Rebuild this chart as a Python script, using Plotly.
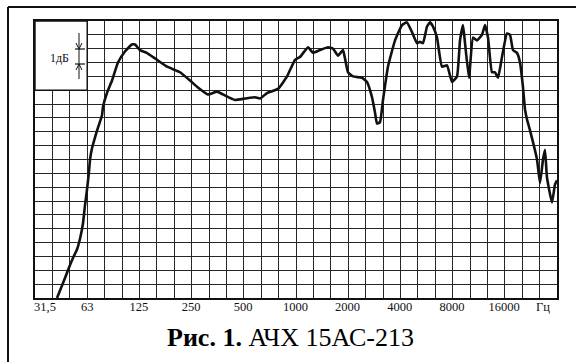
import math
import plotly.graph_objects as go

# Frequency response data (Hz, dB relative to bottom of grid)
freq_hz = [42.2, 45.1, 48.8, 52.2, 55.0, 57.3, 59.6, 61.2, 62.8, 64.5, 65.4, 67.1, 69.9, 72.7,
           76.7, 77.7, 81.9, 87.6, 94.8, 104, 114, 119, 127, 139, 155, 182, 216, 247, 274, 313,
           353, 382, 448, 512, 585, 625, 686, 794, 895, 995, 1063, 1182, 1263, 1386, 1542, 1648,
           1761, 1881, 1932, 2010, 2149, 2421, 2587, 2765, 2877, 2955, 3076, 3200, 3418, 3755,
           4120, 4401, 4703, 5027, 5229, 5443, 5742, 5972, 6218, 6555, 7006, 7488, 8001, 8549,
           8899, 9261, 9510, 10026, 10571, 11148, 11913, 12402, 12906, 13608, 14156, 14736,
           15539, 16607, 17284, 17983, 18966, 19735, 20541, 21092, 21656, 22541, 24734, 25736,
           26788, 27506, 28240, 30180, 31418, 32256]
level_db = [0.0, 0.9, 2.0, 2.9, 3.5, 4.3, 5.4, 6.7, 7.8, 9.1, 10.0, 10.8, 11.6, 12.3,
            13.2, 13.8, 14.8, 15.7, 17.0, 17.8, 18.3, 18.3, 17.9, 17.7, 17.3, 16.7, 16.3, 15.7, 15.2, 14.7,
            14.9, 14.7, 14.3, 14.4, 14.5, 14.4, 14.8, 15.1, 16.0, 17.2, 17.4, 18.1, 17.7, 17.9, 18.1, 18.0,
            17.5, 17.9, 17.3, 16.3, 16.0, 15.9, 15.6, 14.5, 13.4, 12.6, 12.7, 14.3, 16.7, 18.6,
            19.7, 19.9, 19.2, 18.4, 18.5, 18.4, 19.6, 19.9, 19.6, 18.8, 16.7, 16.8, 15.6, 16.0,
            18.6, 19.7, 18.4, 15.9, 18.8, 18.6, 19.0, 19.7, 18.8, 16.3, 16.3, 15.9,
            17.4, 19.1, 19.0, 17.9, 17.7, 17.0, 15.2, 13.6, 12.9, 12.1, 10.0, 8.3,
            10.0, 10.7, 8.7, 6.9, 8.2, 8.5]

first_tick_label = "31,5"
tick_freqs = [63, 125, 250, 500, 1000, 2000, 4000, 8000, 16000]
tick_labels = ["63", "125", "250", "500", "1000", "2000", "4000", "8000", "16000"]
unit_label = "Гц"
scale_label = "1дБ"
title_text = "<b>Рис. 1.</b> АЧХ 15АС-213"

f_min = 31.5
n_octaves = 10
f_max = f_min * 2 ** n_octaves
grid_freqs = [f_min * 2 ** (k / 3) for k in range(1, 3 * n_octaves)]

fig = go.Figure()
fig.add_trace(go.Scatter(x=freq_hz, y=level_db, mode="lines",
                         line=dict(color="#111111", width=2.6, shape="spline", smoothing=0.4),
                         hoverinfo="skip", showlegend=False))

serif = "Liberation Serif, Times New Roman, serif"
grid_col = "#262626"

fig.update_layout(
    width=576, height=362,
    margin=dict(l=35, r=19, t=21, b=64),
    paper_bgcolor="white", plot_bgcolor="white",
    showlegend=False,
    xaxis=dict(type="log", range=[math.log10(f_min), math.log10(f_max)],
               tickmode="array", tickvals=tick_freqs, ticktext=tick_labels,
               ticks="", showgrid=False, zeroline=False, ticklabelstandoff=-4,
               showline=True, mirror=True, linecolor="#111111", linewidth=2,
               tickfont=dict(family=serif, size=12.5, color="#111111"),
               minor=dict(tickmode="array", tickvals=grid_freqs, showgrid=True,
                          gridcolor=grid_col, gridwidth=1.4, ticks="")),
    yaxis=dict(range=[0, 20], dtick=1, tick0=0, showticklabels=False, ticks="",
               showgrid=True, gridcolor=grid_col, gridwidth=1.4, zeroline=False,
               showline=True, mirror=True, linecolor="#111111", linewidth=2),
)

# plot-area geometry (pixels) for paper conversions
L, R, T, B = 35, 557, 21, 298
def px(x):
    return (x - L) / (R - L)
def py(y):
    return (B - y) / (B - T)

shapes = []
# white box with scale marker in top-left
shapes.append(dict(type="rect", xref="paper", yref="paper", x0=0, x1=0.1, y0=0.75, y1=1,
                   fillcolor="white", line=dict(color="#111111", width=1.4), layer="above"))
# vertical marker line
shapes.append(dict(type="line", xref="paper", yref="paper", x0=px(79), x1=px(79), y0=py(33), y1=py(79),
                   line=dict(color="#111111", width=1), layer="above"))
for yy in (49, 64):
    shapes.append(dict(type="line", xref="paper", yref="paper", x0=px(75), x1=px(85), y0=py(yy), y1=py(yy),
                       line=dict(color="#111111", width=1.2), layer="above"))
# arrowheads
shapes.append(dict(type="path", xref="paper", yref="paper",
                   path=f"M {px(76)} {py(43)} L {px(79)} {py(49)} L {px(82)} {py(43)}",
                   line=dict(color="#111111", width=1), layer="above"))
shapes.append(dict(type="path", xref="paper", yref="paper",
                   path=f"M {px(76)} {py(70)} L {px(79)} {py(64)} L {px(82)} {py(70)}",
                   line=dict(color="#111111", width=1), layer="above"))
# outer frame (top and left edges)
shapes.append(dict(type="line", xref="paper", yref="paper", x0=px(8), x1=px(580), y0=py(7), y1=py(7),
                   line=dict(color="#111111", width=2)))
shapes.append(dict(type="line", xref="paper", yref="paper", x0=px(8), x1=px(8), y0=py(7), y1=py(366),
                   line=dict(color="#111111", width=2)))
fig.update_layout(shapes=shapes)

fig.add_annotation(xref="paper", yref="paper", x=px(59), y=py(58), text=scale_label, showarrow=False,
                   xanchor="center", yanchor="middle",
                   font=dict(family=serif, size=12, color="#111111"))
fig.add_annotation(xref="paper", yref="paper", x=px(32), y=py(307), text=first_tick_label, showarrow=False,
                   xanchor="left", yanchor="middle",
                   font=dict(family=serif, size=12.5, color="#111111"))
fig.add_annotation(xref="paper", yref="paper", x=px(543), y=py(307), text=unit_label, showarrow=False,
                   xanchor="center", yanchor="middle",
                   font=dict(family=serif, size=12.5, color="#111111"))
fig.add_annotation(xref="paper", yref="paper", x=px(290), y=py(337), text=title_text, showarrow=False,
                   xanchor="center", yanchor="middle",
                   font=dict(family=serif, size=26, color="#000000"))

fig.write_html("out.html", config={"displayModeBar": False},
               post_script="document.body.style.margin='0';document.body.style.overflow='hidden';")
